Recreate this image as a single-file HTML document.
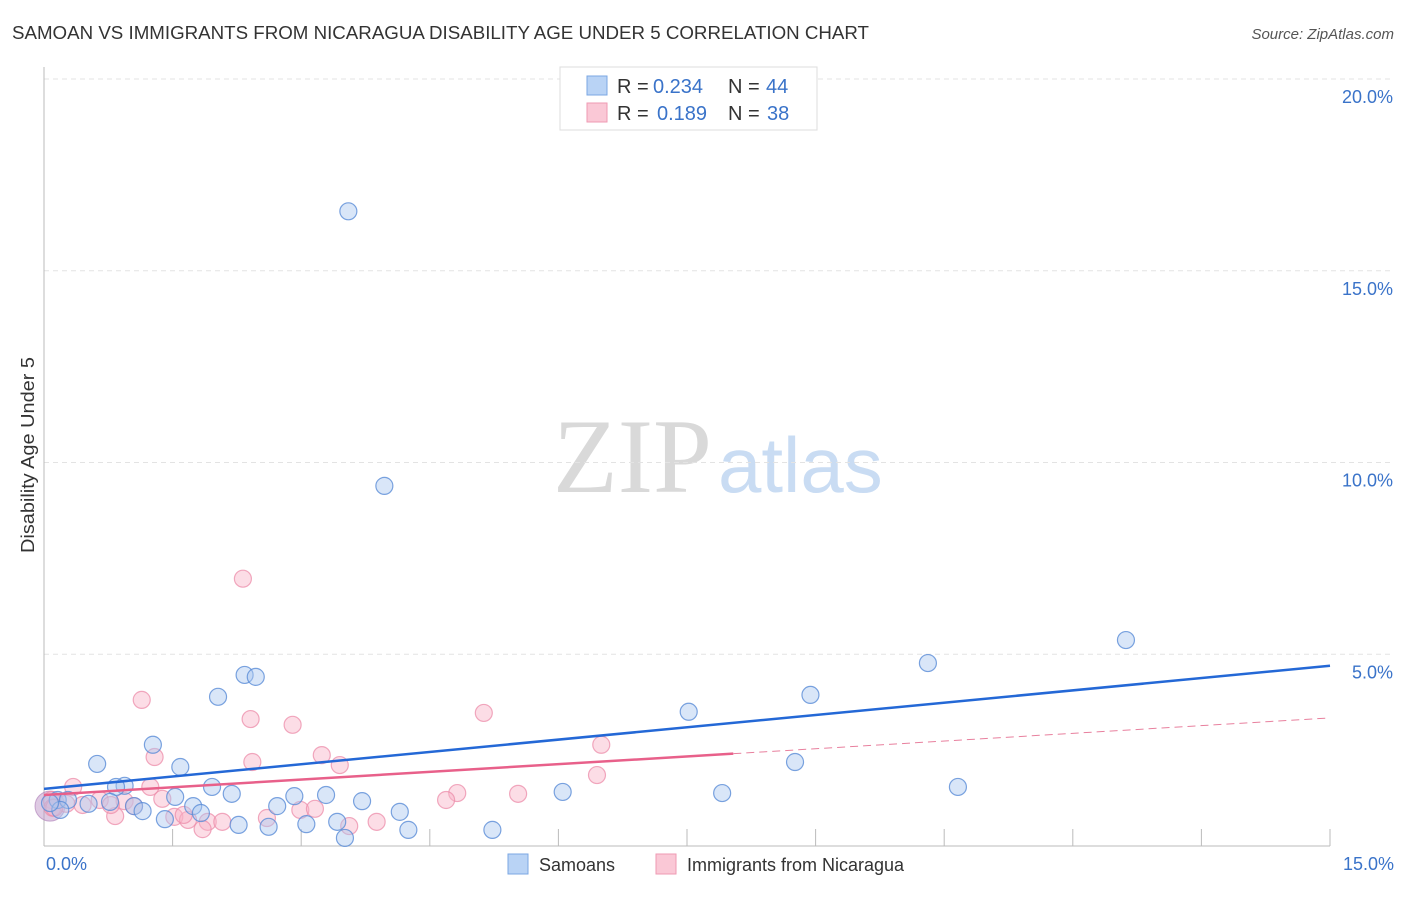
<!DOCTYPE html>
<html><head><meta charset="utf-8"><style>
body{margin:0;background:#fff;font-family:"Liberation Sans",sans-serif;}
svg text{font-family:"Liberation Sans",sans-serif;}
</style></head><body>
<svg id="chart" width="1406" height="892" xmlns="http://www.w3.org/2000/svg">
<text x="12" y="39" font-size="18" fill="#333" textLength="857" lengthAdjust="spacingAndGlyphs">SAMOAN VS IMMIGRANTS FROM NICARAGUA DISABILITY AGE UNDER 5 CORRELATION CHART</text>
<text x="1394" y="39" font-size="15" fill="#555" font-style="italic" text-anchor="end">Source: ZipAtlas.com</text>
<text x="553" y="492" font-size="106" fill="#d9d9d9" font-family="Liberation Serif" style="font-family:'Liberation Serif',serif">ZIP</text>
<text x="718" y="492" font-size="78" fill="#c9dcf3">atlas</text>
<text transform="translate(34,455) rotate(-90)" font-size="18" fill="#333" text-anchor="middle" textLength="196" lengthAdjust="spacingAndGlyphs">Disability Age Under 5</text>
<g id="grid"></g><g id="axes"></g><g id="marks"></g>
<g>
<rect x="560" y="67" width="257" height="63" fill="#fff" stroke="#ddd"/>
<rect x="587" y="76" width="20" height="19" fill="#b9d3f5" stroke="#7ba7e3"/>
<text x="617" y="93" font-size="20" fill="#333">R =</text><text x="653" y="93" font-size="20" fill="#3a73c9">0.234</text>
<text x="728" y="93" font-size="20" fill="#333">N =</text><text x="766" y="93" font-size="20" fill="#3a73c9">44</text>
<rect x="587" y="103" width="20" height="19" fill="#fac8d6" stroke="#ef9ab3"/>
<text x="617" y="120" font-size="20" fill="#333">R =</text><text x="657" y="120" font-size="20" fill="#3a73c9">0.189</text>
<text x="728" y="120" font-size="20" fill="#333">N =</text><text x="767" y="120" font-size="20" fill="#3a73c9">38</text>
</g>
<g>
<rect x="508" y="854" width="20" height="20" fill="#b9d3f5" stroke="#7ba7e3"/>
<text x="539" y="871" font-size="18" fill="#333">Samoans</text>
<rect x="656" y="854" width="20" height="20" fill="#fac8d6" stroke="#ef9ab3"/>
<text x="687" y="871" font-size="18" fill="#333">Immigrants from Nicaragua</text>
</g>
</svg>
<script>
const xTicks=[0,1.5,3,4.5,6,7.5,9,10.5,12,13.5,15];
const yTicks=[5,10,15,20];
const yTickLabels=["5.0%","10.0%","15.0%","20.0%"];
const xEndLabels=["0.0%","15.0%"];
const blueX=[3.55,3.97,12.62,10.31,8.94,7.52,2.34,2.47,2.03,1.27,0.62,1.59,8.76,10.66,7.91,6.05,1.96,2.19,0.94,0.84,2.92,3.29,1.53,3.71,2.72,1.74,1.05,1.15,0.16,0.28,0.52,4.15,1.83,1.41,2.27,2.62,3.06,3.42,4.25,5.23,3.51,0.19,0.07,0.77];
const blueY=[16.55,9.39,5.37,4.77,3.94,3.50,4.46,4.41,3.89,2.64,2.14,2.06,2.19,1.54,1.38,1.41,1.54,1.36,1.57,1.54,1.30,1.33,1.28,1.17,1.04,1.04,1.04,0.91,1.20,1.20,1.10,0.89,0.86,0.70,0.55,0.50,0.57,0.63,0.42,0.42,0.21,0.94,1.12,1.15];
const pinkX=[2.32,1.14,2.41,2.90,5.13,6.50,1.29,2.43,3.24,3.45,6.45,1.24,0.34,0.65,1.38,4.82,5.53,4.69,0.94,1.05,0.45,0.09,0.83,1.52,1.68,1.91,2.08,1.85,2.60,2.99,3.16,3.56,3.88,1.63,0.26,0.10,0.12,0.78];
const pinkY=[6.97,3.81,3.31,3.16,3.47,2.64,2.32,2.19,2.37,2.11,1.85,1.54,1.54,1.20,1.23,1.38,1.36,1.20,1.17,1.04,1.07,1.20,0.78,0.76,0.68,0.63,0.63,0.44,0.73,0.94,0.97,0.52,0.63,0.81,1.10,1.0,1.0,1.07];
const blueLine=[1.49,4.70];
const pinkLine=[1.33,3.34];
const pinkSolidEnd=8.04;
const X=v=>44+v*(1286/15), Y=v=>846-v*(767/20);
const NS="http://www.w3.org/2000/svg";
function mk(t,a,p){const e=document.createElementNS(NS,t);for(const k in a)e.setAttribute(k,a[k]);p.appendChild(e);return e;}
const grid=document.getElementById('grid'),axes=document.getElementById('axes'),marks=document.getElementById('marks');
yTicks.forEach((v,i)=>{
 const l=mk('line',{x1:44,x2:1394,y1:Y(v),y2:Y(v),stroke:'#e3e3e3','stroke-dasharray':'5,4'},grid);
 
 
 const t=mk('text',{x:1393,y:Y(v)+24,'font-size':18,fill:'#3a73c9','text-anchor':'end'},axes);t.textContent=yTickLabels[i];
 
 
});
const ax=mk('line',{x1:44,x2:44,y1:67,y2:846,stroke:'#bbb'},axes);


const bx=mk('line',{x1:44,x2:1330,y1:846,y2:846,stroke:'#bbb'},axes);


xTicks.forEach(v=>{const t=mk('line',{x1:X(v),x2:X(v),y1:829,y2:846,stroke:'#bbb'},axes);
 
 });
[[0,'start',46],[15,'end',1394]].forEach((a,i)=>{const t=mk('text',{x:a[2],y:870,'font-size':18,fill:'#3a73c9','text-anchor':a[1]},axes);t.textContent=xEndLabels[i];
 
 });
const big=mk('circle',{cx:X(0.07),cy:Y(1.04),r:15,fill:'rgba(190,150,200,0.5)',stroke:'rgba(170,120,180,0.6)'},marks);


pinkX.forEach((x,i)=>{const c=mk('circle',{cx:X(x),cy:Y(pinkY[i]),r:8.5,fill:'rgba(248,180,200,0.45)',stroke:'rgba(236,140,170,0.75)','stroke-width':1.2},marks);
 
 });
blueX.forEach((x,i)=>{const c=mk('circle',{cx:X(x),cy:Y(blueY[i]),r:8.5,fill:'rgba(170,200,240,0.45)',stroke:'rgba(90,140,215,0.8)','stroke-width':1.2},marks);
 
 });
const bl=mk('line',{x1:X(0),y1:Y(blueLine[0]),x2:X(15),y2:Y(blueLine[1]),stroke:'#2468d6','stroke-width':2.5},marks);


const pm=pinkLine[0]+(pinkLine[1]-pinkLine[0])*pinkSolidEnd/15;
const pl=mk('line',{x1:X(0),y1:Y(pinkLine[0]),x2:X(pinkSolidEnd),y2:Y(pm),stroke:'#e8608a','stroke-width':2.5},marks);


const pd=mk('line',{x1:X(pinkSolidEnd),y1:Y(pm),x2:X(15),y2:Y(pinkLine[1]),stroke:'#e8809e','stroke-width':1,'stroke-dasharray':'8,5'},marks);


</script>
</body></html>
